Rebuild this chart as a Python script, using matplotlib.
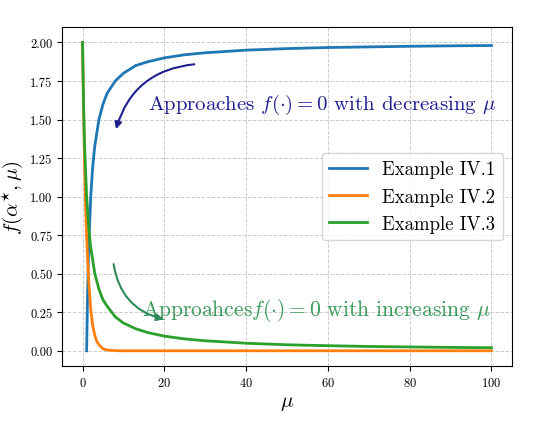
import numpy as np
import matplotlib.pyplot as plt

plt.rcParams['mathtext.fontset'] = 'cm'
plt.rcParams['font.family'] = 'serif'
plt.rcParams['font.serif'] = ['cmr10', 'DejaVu Serif']
plt.rcParams['axes.formatter.use_mathtext'] = True

# values
mu1 = [1, 1.2, 1.5, 2, 2.5, 3, 4, 5, 6, 8, 10, 13, 16, 20, 25, 30, 40, 50, 60, 70, 80, 90, 100]
f1 = [0.0, 0.33, 0.67, 1.0, 1.2, 1.33, 1.5, 1.6, 1.67, 1.75, 1.8, 1.85, 1.875, 1.9, 1.92,
      1.933, 1.95, 1.96, 1.967, 1.971, 1.975, 1.978, 1.98]
mu2 = [0, 0.25, 0.5, 0.75, 1, 1.5, 2, 2.5, 3, 3.5, 4, 5, 6, 8, 10, 20, 40, 60, 80, 100]
f2 = [2.0, 1.56, 1.21, 0.94, 0.74, 0.45, 0.27, 0.16, 0.10, 0.06, 0.04, 0.013, 0.005, 0.001,
      0.0, 0.0, 0.0, 0.0, 0.0, 0.0]
mu3 = [0, 0.25, 0.5, 1, 1.5, 2, 3, 4, 5, 6, 8, 10, 13, 16, 20, 25, 30, 40, 50, 60, 70, 80, 90, 100]
f3 = [2.0, 1.6, 1.33, 1.0, 0.8, 0.67, 0.5, 0.4, 0.33, 0.29, 0.22, 0.18, 0.143, 0.118, 0.095,
      0.077, 0.065, 0.049, 0.039, 0.033, 0.028, 0.025, 0.022, 0.02]

fig, ax = plt.subplots(figsize=(5.4, 4.31), dpi=100)
fig.subplots_adjust(left=0.115, right=0.948, top=0.935, bottom=0.148)
ax.plot(mu1, f1, color='#1f77b4', lw=2, label='Example IV.1')
ax.plot(mu2, f2, color='#ff7f0e', lw=2, label='Example IV.2')
ax.plot(mu3, f3, color='#2ca02c', lw=2, label='Example IV.3')
ax.set_xlim(-5, 105)
ax.set_ylim(-0.1, 2.1)
ax.set_yticks(np.arange(0, 2.01, 0.25))
ax.yaxis.set_major_formatter(plt.FuncFormatter(lambda v, p: '%.2f' % v))
ax.grid(True, ls='--', color='#cccccc', lw=0.7)
ax.tick_params(labelsize=9)
ax.set_xlabel(r'$\mu$', fontsize=15)
ax.set_ylabel(r'$f(\alpha^{\star},\mu)$', fontsize=15)
ax.legend(loc='center right', bbox_to_anchor=(1.0, 0.5), fontsize=13.5, handlelength=2)

ax.text(16, 1.6, r'Approaches $f(\cdot) = 0$ with decreasing $\mu$', fontsize=15, color='#1f1f8f', va='center')
ax.annotate('', xy=(8, 1.42), xytext=(28, 1.86),
            arrowprops=dict(arrowstyle='-|>', color='#1f1f8f', lw=1.5, connectionstyle='arc3,rad=0.35'))
ax.text(14.5, 0.27, r'Approahces$f(\cdot) = 0$ with increasing $\mu$', fontsize=15.5, color='#3a9a5a', va='center')
ax.annotate('', xy=(20.5, 0.2), xytext=(7.5, 0.58),
            arrowprops=dict(arrowstyle='-|>', color='#2e8b57', lw=1.5, connectionstyle='arc3,rad=0.35'))

fig.savefig('out.png', dpi=100)
